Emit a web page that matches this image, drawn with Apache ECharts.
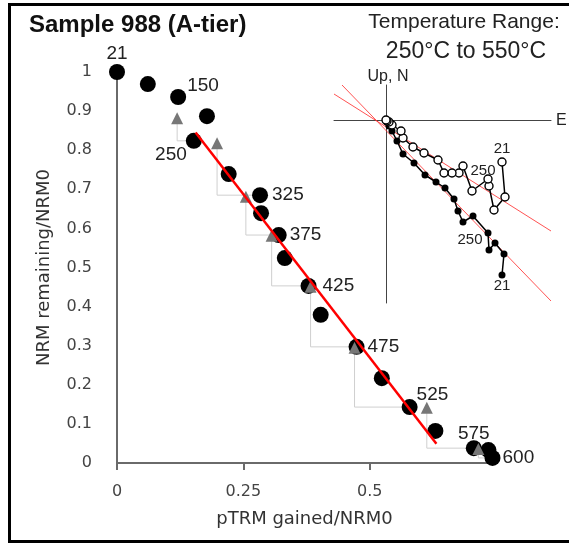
<!DOCTYPE html>
<html><head><meta charset="utf-8">
<script src="https://cdn.jsdelivr.net/npm/echarts@6/dist/echarts.min.js"></script>
<style>html,body{margin:0;padding:0;background:#fff}#c{width:569px;height:545px}</style>
</head><body><div id="c"></div>
<script>
// Arai plot data
const ptrmGained = [0, 0.061, 0.121, 0.178, 0.152, 0.221, 0.283, 0.285, 0.320, 0.332, 0.379, 0.403, 0.474, 0.524, 0.579, 0.630, 0.706, 0.735, 0.743];
const nrmRemaining = [1.0, 0.969, 0.936, 0.887, 0.824, 0.739, 0.685, 0.639, 0.583, 0.524, 0.453, 0.379, 0.297, 0.217, 0.143, 0.082, 0.038, 0.033, 0.013];
const stepLabels = ['21', '', '150', '', '250', '', '325', '', '375', '', '425', '', '475', '', '525', '', '575', '', '600'];
// pTRM checks
const checkPtrm = [0.119, 0.198, 0.255, 0.306, 0.383, 0.470, 0.613, 0.715];
const checkNrm = [0.882, 0.818, 0.681, 0.581, 0.451, 0.295, 0.141, 0.036];
const checkTarget = [4, 6, 8, 10, 12, 14, 16, 18];
// best-fit line
const fitPtrm = [0.1555, 0.632];
const fitNrm = [0.845, 0.049];
const xTickValues = [0, 0.25, 0.5];
// Zijderveld inset (arbitrary units)
const zijE_h = [1.16, 1.18, 1.09, 1.03, 1.02, 0.87, 0.77, 0.72, 0.68, 0.59, 0.50, 0.39, 0.28, 0.17, 0.11, 0.06, 0.03, 0.01, 0.00];
const zijN = [-1.55, -1.34, -1.23, -1.30, -1.13, -0.96, -1.02, -0.91, -0.79, -0.68, -0.62, -0.55, -0.43, -0.34, -0.21, -0.11, -0.06, -0.02, -0.01];
const zijE_v = [1.16, 1.19, 1.08, 1.03, 1.02, 0.86, 0.77, 0.73, 0.66, 0.58, 0.52, 0.38, 0.27, 0.17, 0.15, 0.06, 0.03, 0.01, 0.00];
const zijUp = [-0.42, -0.77, -0.90, -0.66, -0.59, -0.71, -0.46, -0.53, -0.53, -0.53, -0.40, -0.33, -0.27, -0.18, -0.11, -0.05, -0.02, -0.01, 0.00];
const zijLabels = ['21', '', '', '', '250', '', '', '', '', '', '', '', '', '', '', '', '', '', ''];
const zijFitH_E = [-0.44, 1.65], zijFitH_N = [0.35, -1.81];
const zijFitV_E = [-0.52, 1.65], zijFitV_Up = [0.26, -1.11];

const SANS = '"Liberation Sans", Arial, Helvetica, sans-serif';
const AXF = '"DejaVu Sans", sans-serif';

const labelPlace = {
  0: {position: 'top', distance: 1},
  2: {position: 'right', distance: 1, offset: [0, -11]},
  4: {position: 'left', distance: -1, offset: [0, 14]},
  6: {position: 'right', distance: 4},
  8: {position: 'right', distance: 3},
  10: {position: 'right', distance: 6},
  12: {position: 'right', distance: 3},
  14: {position: 'right', distance: -1, offset: [0, -12]},
  16: {position: 'top', distance: -3},
  18: {position: 'right', distance: 2}
};

const araiData = ptrmGained.map((x, i) => {
  const item = {value: [x, nrmRemaining[i]]};
  if (stepLabels[i]) {
    item.label = Object.assign({show: true, formatter: stepLabels[i]}, labelPlace[i]);
  }
  return item;
});

const series = [];
checkPtrm.forEach((cx, k) => {
  const t = checkTarget[k];
  series.push({
    type: 'line', xAxisIndex: 0, yAxisIndex: 0, z: 1, silent: true,
    showSymbol: false, symbol: 'none',
    lineStyle: {color: '#cfcfcf', width: 1},
    data: [[cx, checkNrm[k]], [cx, nrmRemaining[t]], [ptrmGained[t], nrmRemaining[t]]]
  });
});
series.push({
  type: 'scatter', xAxisIndex: 0, yAxisIndex: 0, z: 2, clip: false,
  symbol: 'circle', symbolSize: 16,
  itemStyle: {color: '#000', opacity: 1},
  label: {color: '#222', fontSize: 19, fontFamily: SANS},
  data: araiData
});
series.push({
  type: 'scatter', xAxisIndex: 0, yAxisIndex: 0, z: 3, clip: false,
  symbol: 'triangle', symbolSize: 12,
  itemStyle: {color: '#777', opacity: 1},
  data: checkPtrm.map((x, i) => [x, checkNrm[i]])
});
series.push({
  type: 'line', xAxisIndex: 0, yAxisIndex: 0, z: 4, silent: true,
  showSymbol: false, symbol: 'none',
  lineStyle: {color: '#ff0000', width: 2.5},
  data: fitPtrm.map((x, i) => [x, fitNrm[i]])
});
// inset
series.push({
  type: 'line', xAxisIndex: 1, yAxisIndex: 1, z: 5, silent: true, symbol: 'none',
  lineStyle: {color: 'rgba(255,40,40,0.8)', width: 1},
  data: zijFitH_E.map((x, i) => [x, zijFitH_N[i]])
});
series.push({
  type: 'line', xAxisIndex: 1, yAxisIndex: 1, z: 5, silent: true, symbol: 'none',
  lineStyle: {color: 'rgba(255,40,40,0.8)', width: 1},
  data: zijFitV_E.map((x, i) => [x, zijFitV_Up[i]])
});
series.push({
  type: 'line', xAxisIndex: 1, yAxisIndex: 1, z: 6, clip: false,
  symbol: 'circle', symbolSize: 7, showAllSymbol: true,
  lineStyle: {color: '#000', width: 1.5},
  itemStyle: {color: '#000'},
  label: {show: true, fontSize: 15, fontFamily: SANS, color: '#222',
    formatter: p => zijLabels[p.dataIndex] || ''},
  data: zijE_h.map((x, i) => {
    const it = {value: [x, zijN[i]]};
    if (i === 0) it.label = {position: 'bottom', distance: 0};
    else if (i === 4) it.label = {position: 'left', distance: 2, offset: [0, 7]};
    return it;
  })
});
series.push({
  type: 'line', xAxisIndex: 1, yAxisIndex: 1, z: 7, clip: false,
  symbol: 'circle', symbolSize: 8, showAllSymbol: true,
  lineStyle: {color: '#000', width: 1.5},
  itemStyle: {color: '#fff', borderColor: '#000', borderWidth: 1.4},
  label: {show: true, fontSize: 15, fontFamily: SANS, color: '#222',
    formatter: p => zijLabels[p.dataIndex] || ''},
  data: zijE_v.map((x, i) => {
    const it = {value: [x, zijUp[i]]};
    if (i === 0) it.label = {position: 'top', distance: 1};
    else if (i === 4) it.label = {position: 'inside', offset: [-5, -8]};
    return it;
  })
});

const chart = echarts.init(document.getElementById('c'), null, {renderer: 'canvas'});
chart.setOption({
  animation: false,
  backgroundColor: '#fff',
  grid: [
    {left: 117, top: 72, width: 375, height: 391},
    {left: 334, top: 85, width: 217, height: 218}
  ],
  xAxis: [
    {type: 'value', gridIndex: 0, min: 0, max: 0.742,
      name: 'pTRM gained/NRM0', nameLocation: 'middle', nameGap: 47,
      nameTextStyle: {fontSize: 18, fontFamily: AXF, color: '#333'},
      axisLine: {show: true, lineStyle: {color: '#6a6a6a', width: 2}},
      axisTick: {show: true, length: 7, customValues: xTickValues, lineStyle: {color: '#6a6a6a', width: 2}},
      axisLabel: {customValues: xTickValues, margin: 21, fontSize: 16, fontFamily: AXF, color: '#444'},
      splitLine: {show: false}},
    {type: 'value', gridIndex: 1, min: -0.52, max: 1.65,
      axisLine: {show: true, onZero: true, lineStyle: {color: '#444', width: 1}},
      axisTick: {show: false}, axisLabel: {show: false}, splitLine: {show: false}}
  ],
  yAxis: [
    {type: 'value', gridIndex: 0, min: 0, max: 1, interval: 0.1,
      name: 'NRM remaining/NRM0', nameLocation: 'middle', nameGap: 64,
      nameTextStyle: {fontSize: 18, fontFamily: AXF, color: '#333'},
      axisLine: {show: true, lineStyle: {color: '#6a6a6a', width: 2}},
      axisTick: {show: false},
      axisLabel: {margin: 25, fontSize: 16, fontFamily: AXF, color: '#444'},
      splitLine: {show: false}},
    {type: 'value', gridIndex: 1, min: -1.83, max: 0.35,
      axisLine: {show: true, onZero: true, lineStyle: {color: '#444', width: 1}},
      axisTick: {show: false}, axisLabel: {show: false}, splitLine: {show: false}}
  ],
  graphic: [
    {type: 'rect', silent: true, z: 100, shape: {x: 9.5, y: 4.5, width: 600, height: 537},
      style: {fill: 'none', stroke: '#000', lineWidth: 3}},
    {type: 'text', left: 29, top: 13, style: {text: 'Sample 988 (A-tier)', font: 'bold 24px ' + SANS, fill: '#111'}},
    {type: 'text', x: 464, y: 22, style: {text: 'Temperature Range:', font: '21px ' + SANS, fill: '#222', align: 'center', verticalAlign: 'middle'}},
    {type: 'text', x: 466, y: 52, style: {text: '250°C to 550°C', font: '23px ' + SANS, fill: '#222', align: 'center', verticalAlign: 'middle'}},
    {type: 'text', x: 388, y: 77, style: {text: 'Up, N', font: '16px ' + SANS, fill: '#222', align: 'center', verticalAlign: 'middle'}},
    {type: 'text', x: 556, y: 121, style: {text: 'E', font: '16px ' + SANS, fill: '#222', align: 'left', verticalAlign: 'middle'}}
  ],
  series: series
});
</script>
</body></html>
